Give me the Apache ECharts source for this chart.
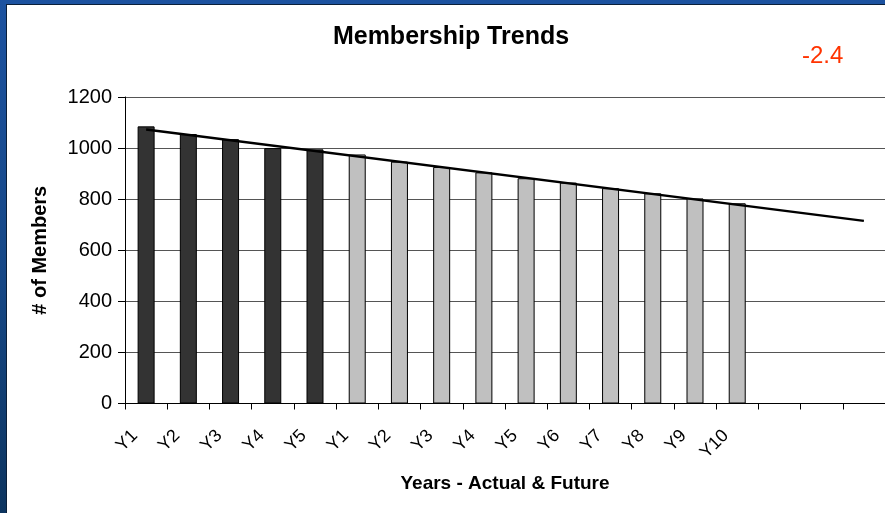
<!DOCTYPE html>
<html>
<head>
<meta charset="utf-8">
<script src="https://cdn.jsdelivr.net/npm/echarts@6/dist/echarts.min.js"></script>
<style>
  html, body { margin: 0; padding: 0; width: 885px; height: 513px; overflow: hidden; }
  body { background: linear-gradient(180deg, #1c52a0 0%, #164785 55%, #0c345f 100%); position: relative; }
  #panel { position: absolute; left: 6px; top: 4px; right: 0; bottom: 0; background: #fff; border-left: 1px solid #0a1f3a; border-top: 1px solid #0a1f3a; }
  #chart { position: absolute; left: 0; top: 0; width: 885px; height: 513px; }
</style>
</head>
<body>
<div id="panel"></div>
<div id="chart"></div>
<script>
const categories = ['Y1','Y2','Y3','Y4','Y5','Y1','Y2','Y3','Y4','Y5','Y6','Y7','Y8','Y9','Y10','','',''];
const actualValues = [1085, 1055, 1035, 1000, 995];
const futureValues = [975, 947, 926, 905, 882, 865, 843, 823, 803, 784];
const trendStart = 1073;
const trendEnd = 715;
const titleText = 'Membership Trends';
const noteText = '-2.4';
const xName = 'Years - Actual & Future';
const yName = '# of Members';

const n = categories.length;
const actualData = categories.map((c, i) => i < actualValues.length ? actualValues[i] : null);
const futureData = categories.map((c, i) => {
  const j = i - actualValues.length;
  return (j >= 0 && j < futureValues.length) ? futureValues[j] : null;
});
const trendData = categories.map((c, i) => i === 0 ? trendStart : (i === n - 1 ? trendEnd : null));

const FONT = '"Liberation Sans", Arial, sans-serif';
const chart = echarts.init(document.getElementById('chart'), null, { renderer: 'canvas' });
chart.setOption({
  backgroundColor: 'transparent',
  animation: false,
  textStyle: { fontFamily: FONT },
  graphic: [
    {
      type: 'text', x: 451, y: 37,
      style: { text: titleText, fontFamily: FONT, fontSize: 25, fontWeight: 'bold', fill: '#000', align: 'center', verticalAlign: 'middle' }
    },
    {
      type: 'text', x: 802, y: 56,
      style: { text: noteText, fontFamily: FONT, fontSize: 24, fill: '#ff3300', align: 'left', verticalAlign: 'middle' }
    }
  ],
  grid: { left: 125, right: 0, top: 97, bottom: 109.5, containLabel: false },
  xAxis: {
    type: 'category',
    data: categories,
    boundaryGap: true,
    name: xName,
    nameLocation: 'middle',
    nameGap: 71,
    nameTextStyle: { fontFamily: FONT, fontSize: 19, fontWeight: 'bold', color: '#000' },
    axisLine: { lineStyle: { color: '#000', width: 1 } },
    axisTick: { show: true, length: 6, lineStyle: { color: '#000' } },
    axisLabel: { interval: 0, rotate: 45, margin: 18, padding: [0, 16, 0, 0], fontFamily: FONT, fontSize: 18, color: '#000' },
    splitLine: { show: false }
  },
  yAxis: {
    type: 'value',
    min: 0, max: 1200, interval: 200,
    name: yName,
    nameLocation: 'middle',
    nameGap: 75,
    nameRotate: 90,
    nameTextStyle: { fontFamily: FONT, fontSize: 20, fontWeight: 'bold', color: '#000' },
    axisLine: { show: true, lineStyle: { color: '#000', width: 1 } },
    axisTick: { show: true, length: 7, lineStyle: { color: '#000' } },
    axisLabel: { margin: 13, fontFamily: FONT, fontSize: 20, color: '#000', formatter: v => String(v) },
    splitLine: { show: true, lineStyle: { color: '#555', width: 1 } }
  },
  series: [
    {
      name: 'Actual', type: 'bar', data: actualData, barWidth: 17, barGap: '-100%',
      itemStyle: { color: '#333333', borderColor: '#000', borderWidth: 1 }
    },
    {
      name: 'Future', type: 'bar', data: futureData, barWidth: 17,
      itemStyle: { color: '#c0c0c0', borderColor: '#000', borderWidth: 1 }
    },
    {
      name: 'Trend', type: 'line', data: trendData, connectNulls: true,
      symbol: 'none', lineStyle: { color: '#000', width: 2.5 }, z: 5
    }
  ]
});
</script>
</body>
</html>
